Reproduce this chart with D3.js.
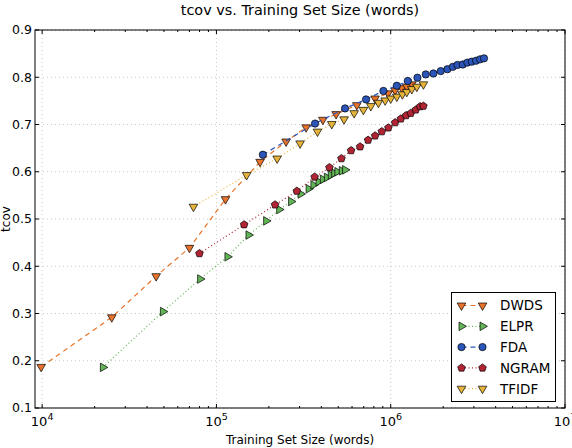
<!DOCTYPE html>
<html><head><meta charset="utf-8">
<script src="https://cdn.jsdelivr.net/npm/d3@7"></script>
<style>body{margin:0;background:#fff}svg{display:block}text{font-family:"DejaVu Sans",sans-serif}</style>
</head><body><svg id="c" width="572" height="448"></svg>
<script>
const DWDS_x = [9870, 25100, 45100, 70000, 112700, 178000, 251000, 327000, 408000, 486000, 639000, 813000, 966000, 1060000, 1158000, 1237000, 1322000];
const DWDS_y = [0.187, 0.292, 0.379, 0.439, 0.542, 0.621, 0.664, 0.694, 0.710, 0.722, 0.741, 0.755, 0.766, 0.772, 0.777, 0.780, 0.785];
const ELPR_x = [22300, 49300, 80600, 115600, 152700, 192800, 229000, 268000, 304000, 338000, 360000, 385000, 408000, 430000, 453000, 474000, 494000, 524000, 547000];
const ELPR_y = [0.186, 0.304, 0.373, 0.420, 0.466, 0.496, 0.520, 0.537, 0.553, 0.564, 0.572, 0.579, 0.584, 0.588, 0.593, 0.597, 0.600, 0.602, 0.604];
const FDA_x = [184700, 368000, 547000, 722000, 908000, 1084000, 1253000, 1423000, 1589000, 1758000, 1937000, 2115000, 2271000, 2414000, 2592000, 2754000, 2918000, 3090000, 3260000, 3430000];
const FDA_y = [0.636, 0.702, 0.734, 0.753, 0.771, 0.782, 0.792, 0.799, 0.806, 0.808, 0.813, 0.817, 0.822, 0.826, 0.827, 0.831, 0.833, 0.835, 0.838, 0.840];
const NGRAM_x = [79900, 144200, 217000, 289300, 366000, 445000, 521500, 592600, 667400, 741700, 813800, 889000, 970000, 1060000, 1143000, 1225000, 1304000, 1393000, 1475000, 1540000];
const NGRAM_y = [0.427, 0.488, 0.530, 0.559, 0.589, 0.609, 0.628, 0.645, 0.653, 0.667, 0.676, 0.685, 0.693, 0.704, 0.712, 0.719, 0.724, 0.731, 0.738, 0.739];
const TFIDF_x = [73800, 149000, 223000, 302000, 380000, 459000, 540000, 617000, 697000, 769000, 850000, 929000, 1000000, 1084000, 1167000, 1237000, 1322000, 1412000, 1540000];
const TFIDF_y = [0.526, 0.593, 0.628, 0.660, 0.685, 0.701, 0.711, 0.724, 0.731, 0.739, 0.746, 0.751, 0.755, 0.759, 0.764, 0.769, 0.775, 0.780, 0.785];
const seriesNames = ["DWDS", "ELPR", "FDA", "NGRAM", "TFIDF"];
const yTicks = [0.1, 0.2, 0.3, 0.4, 0.5, 0.6, 0.7, 0.8, 0.9];
const xTicks = [1e4, 1e5, 1e6, 1e7];
const xTickExp = ["4", "5", "6", "7"];
const titleText = "tcov vs. Training Set Size (words)";
const xLabel = "Training Set Size (words)";
const yLabel = "tcov";

const L = 35, R = 565, T = 30, B = 408;
const svg = d3.select("#c");
const x = d3.scaleLog().domain([9100, 1e7]).range([L, R]);
const y = d3.scaleLinear().domain([0.1, 0.9]).range([B, T]);

const pentagon = { draw(ctx, size) {
  const r = Math.sqrt(size / 2.3776);
  for (let i = 0; i < 5; i++) {
    const a = -Math.PI / 2 + i * 2 * Math.PI / 5;
    const px = r * Math.cos(a), py = r * Math.sin(a);
    if (i === 0) ctx.moveTo(px, py); else ctx.lineTo(px, py);
  }
  ctx.closePath();
}};

const styles = {
  DWDS: {color: "#e8732c", dash: "5,4", sym: d3.symbolTriangle, rot: 180, size: 32},
  ELPR: {color: "#62b556", dash: "1,2.5", sym: d3.symbolTriangle, rot: 90, size: 32},
  FDA: {color: "#2b55b8", dash: "5,4", sym: d3.symbolCircle, rot: 0, size: 42},
  NGRAM: {color: "#b02433", dash: "1,2.5", sym: pentagon, rot: 0, size: 38},
  TFIDF: {color: "#e6b43a", dash: "1,2.5", sym: d3.symbolTriangle, rot: 180, size: 32}
};
const dataMap = {DWDS: [DWDS_x, DWDS_y], ELPR: [ELPR_x, ELPR_y], FDA: [FDA_x, FDA_y], NGRAM: [NGRAM_x, NGRAM_y], TFIDF: [TFIDF_x, TFIDF_y]};

// grid
const grid = svg.append("g");
xTicks.forEach(v => grid.append("line").attr("x1", x(v)).attr("x2", x(v)).attr("y1", T).attr("y2", B)
  .attr("stroke", "#c8c8c8").attr("stroke-width", 1).attr("stroke-dasharray", "1,3"));
yTicks.forEach(v => grid.append("line").attr("x1", L).attr("x2", R).attr("y1", y(v)).attr("y2", y(v))
  .attr("stroke", "#c8c8c8").attr("stroke-width", 1).attr("stroke-dasharray", "1,3"));

// data
const plot = svg.append("g");
seriesNames.forEach(name => {
  const s = styles[name];
  const [xs, ys] = dataMap[name];
  const pts = xs.map((v, i) => [x(v), y(ys[i])]);
  plot.append("path").attr("d", d3.line()(pts)).attr("fill", "none")
    .attr("stroke", s.color).attr("stroke-width", 1.2).attr("stroke-dasharray", s.dash);
  const sym = d3.symbol().type(s.sym).size(s.size);
  plot.selectAll(null).data(pts).enter().append("path").attr("d", sym)
    .attr("transform", d => `translate(${d[0]},${d[1]}) rotate(${s.rot})`)
    .attr("fill", s.color).attr("stroke", "#000").attr("stroke-width", 0.7);
});

// axes ticks (inward)
const ax = svg.append("g").attr("stroke", "#000").attr("stroke-width", 1);
const minors = [];
for (let e = 3; e < 7; e++) for (let m = 2; m <= 9; m++) { const v = m * Math.pow(10, e); if (v >= 9100 && v <= 1e7) minors.push(v); }
minors.forEach(v => {
  ax.append("line").attr("x1", x(v)).attr("x2", x(v)).attr("y1", B).attr("y2", B - 2);
  ax.append("line").attr("x1", x(v)).attr("x2", x(v)).attr("y1", T).attr("y2", T + 2);
});
xTicks.forEach(v => {
  ax.append("line").attr("x1", x(v)).attr("x2", x(v)).attr("y1", B).attr("y2", B - 4);
  ax.append("line").attr("x1", x(v)).attr("x2", x(v)).attr("y1", T).attr("y2", T + 4);
});
yTicks.forEach(v => {
  ax.append("line").attr("x1", L).attr("x2", L + 4).attr("y1", y(v)).attr("y2", y(v));
  ax.append("line").attr("x1", R).attr("x2", R - 4).attr("y1", y(v)).attr("y2", y(v));
});
svg.append("rect").attr("x", L).attr("y", T).attr("width", R - L).attr("height", B - T)
  .attr("fill", "none").attr("stroke", "#000").attr("stroke-width", 1);

// tick labels
yTicks.forEach(v => svg.append("text").attr("x", L - 3).attr("y", y(v)).attr("dy", "0.35em")
  .attr("text-anchor", "end").attr("font-size", 12.5).text(d3.format(".1f")(v)));
xTicks.forEach((v, i) => {
  const t = svg.append("text").attr("x", x(v)).attr("y", 426).attr("text-anchor", "middle").attr("font-size", 13);
  t.append("tspan").text("10");
  t.append("tspan").attr("dy", -6).attr("font-size", 9.5).text(xTickExp[i]);
});

svg.append("text").attr("x", (L + R) / 2).attr("y", 444).attr("text-anchor", "middle").attr("font-size", 12).text(xLabel);
svg.append("text").attr("x", (L + R) / 2).attr("y", 15).attr("text-anchor", "middle").attr("font-size", 14.4).text(titleText);
svg.append("text").attr("transform", `translate(10,${(T + B) / 2}) rotate(-90)`).attr("text-anchor", "middle")
  .attr("font-size", 12).text(yLabel);

// legend
const lg = svg.append("g");
lg.append("rect").attr("x", 451.5).attr("y", 292.5).attr("width", 104).attr("height", 109)
  .attr("fill", "#fff").attr("stroke", "#000").attr("stroke-width", 1);
seriesNames.forEach((name, i) => {
  const s = styles[name];
  const cy = 305.5 + i * 20.8;
  lg.append("line").attr("x1", 461.5).attr("x2", 482.5).attr("y1", cy).attr("y2", cy)
    .attr("stroke", s.color).attr("stroke-width", 1.2).attr("stroke-dasharray", s.dash);
  const sym = d3.symbol().type(s.sym).size(s.size);
  [461.5, 482.5].forEach(mx => lg.append("path").attr("d", sym)
    .attr("transform", `translate(${mx},${cy}) rotate(${s.rot})`)
    .attr("fill", s.color).attr("stroke", "#000").attr("stroke-width", 0.7));
  lg.append("text").attr("x", 500).attr("y", cy).attr("dy", "0.36em").attr("font-size", 13.5).text(name);
});
</script></body></html>
